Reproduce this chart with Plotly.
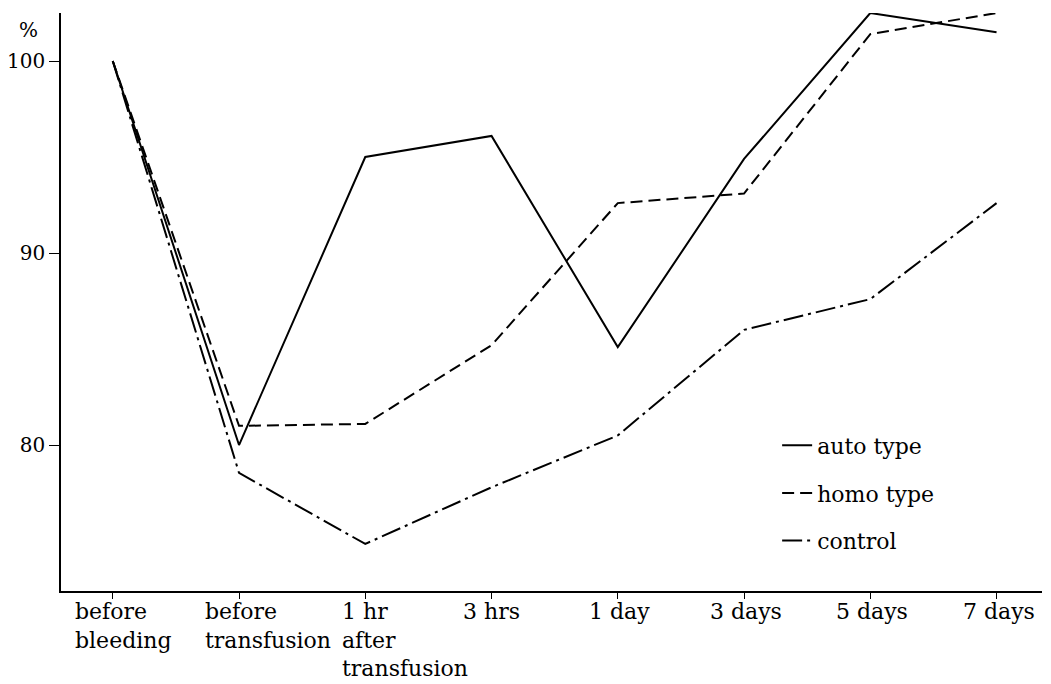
import plotly.graph_objects as go

categories = ["before bleeding", "before transfusion", "1 hr after transfusion",
              "3 hrs", "1 day", "3 days", "5 days", "7 days"]
tick_lines = [["before", "bleeding"], ["before", "transfusion"],
              ["1 hr", "after", "transfusion"], ["3 hrs"], ["1 day"],
              ["3 days"], ["5 days"], ["7 days"]]
auto_type = [100, 80.0, 95.0, 96.1, 85.1, 94.9, 102.5, 101.5]
homo_type = [100, 81.0, 81.1, 85.2, 92.6, 93.1, 101.4, 102.5]
control = [100, 78.55, 74.85, 77.8, 80.5, 86.0, 87.6, 92.6]
y_ticks = [80, 90, 100]

FONT = "DejaVu Serif"
fig = go.Figure()
series = [("auto type", auto_type, "solid"),
          ("homo type", homo_type, "12px,6px"),
          ("control", control, "20px,5px,3px,5px")]
for i, (name, vals, dash) in enumerate(series):
    fig.add_trace(go.Scatter(x=categories, y=vals, mode="lines", name=name,
                             legendgroup=f"g{i}",
                             line=dict(color="black", width=2, dash=dash)))

# x tick labels as left-aligned line blocks
for cat, lines in zip(categories, tick_lines):
    off = -len(lines[0]) * 5.5 - (7 if len(lines) == 2 and len(lines[1]) < 9 else 3)
    fig.add_annotation(x=cat, xref="x", y=0, yref="paper", text="<br>".join(lines),
                       showarrow=False, xanchor="left", yanchor="top", align="left",
                       xshift=off, yshift=-6,
                       font=dict(family=FONT, size=22, color="black"))

fig.add_annotation(x=0, xref="paper", y=101.6, yref="y", text="%",
                   showarrow=False, xanchor="right", xshift=-21,
                   font=dict(family=FONT, size=20, color="black"))

fig.update_layout(
    width=1043, height=676,
    margin=dict(l=53, r=9, t=5, b=93),
    paper_bgcolor="white", plot_bgcolor="white",
    font=dict(family=FONT, size=22, color="black"),
    legend=dict(x=0.73, y=0.288, xanchor="left", yanchor="top",
                traceorder="grouped", tracegroupgap=16,
                font=dict(family=FONT, size=22), bgcolor="rgba(0,0,0,0)"),
    xaxis=dict(type="category", range=[-0.41, 7.36], showgrid=False,
               showline=True, linecolor="black", linewidth=1.5,
               ticks="outside", ticklen=6, tickcolor="black",
               showticklabels=False, zeroline=False, automargin=False),
    yaxis=dict(range=[72.4, 102.5], tickvals=y_ticks, showgrid=False,
               showline=True, linecolor="black", linewidth=1.5,
               ticks="outside", ticklen=10, tickcolor="black",
               tickfont=dict(family=FONT, size=20), zeroline=False,
               automargin=False),
)
fig.write_html("out.html")
